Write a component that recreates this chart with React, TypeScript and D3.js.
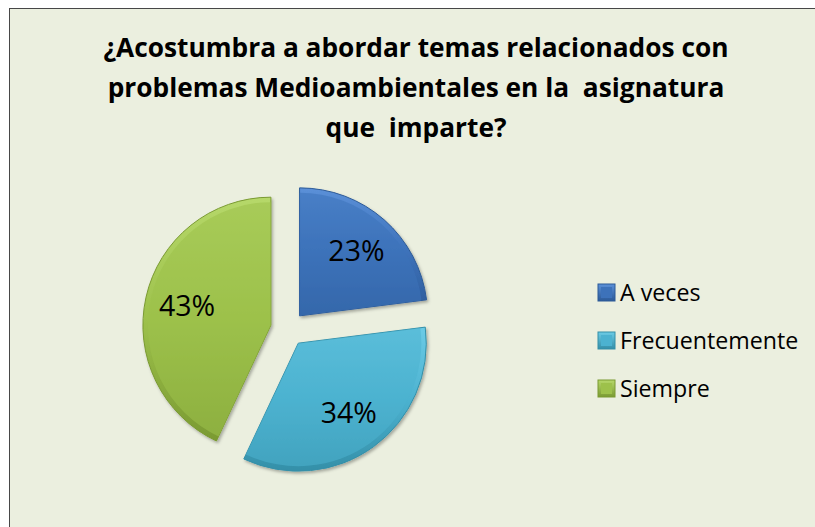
import React from "react";
import * as d3 from "d3";

const titleLines = [
  "¿Acostumbra a abordar temas relacionados con",
  "problemas Medioambientales en la  asignatura",
  "que  imparte?",
];
const categories = ["A veces", "Frecuentemente", "Siempre"];
const values = [23, 34, 43];
const labels = ["23%", "34%", "43%"];
const colors = ["#3D72BA", "#4CB2D0", "#9DC14B"];
const lightColors = ["#5B90D8", "#6CCBE6", "#B6D86A"];
const darkColors = ["#2C5A98", "#348FA8", "#7A9A32"];

const W = 815;
const H = 527;
const FONT = "'Open Sans', 'Noto Sans', sans-serif";

export default function App() {
  const cx = 288;
  const cy = 329;
  const r = 128;
  const explode = 17.5;

  const pie = d3
    .pie<number>()
    .sort(null)
    .startAngle(0)
    .endAngle(2 * Math.PI)
    .value((d) => d);
  const arcs = pie(values);
  const arc = d3.arc<d3.PieArcDatum<number>>().innerRadius(0).outerRadius(r);
  const inner = d3.arc<d3.PieArcDatum<number>>().innerRadius(0).outerRadius(r - 5);
  const labelArc = d3.arc<d3.PieArcDatum<number>>().innerRadius(86).outerRadius(86);

  const legendX = 598;
  const legendY0 = 293;
  const legendStep = 48;

  return (
    <svg
      width={W}
      height={H}
      style={{ position: "absolute", left: 0, top: 0, display: "block" }}
    >
      <defs>
        {colors.map((c, i) => (
          <linearGradient key={i} id={`g${i}`} x1="0" y1="0" x2="0" y2="1">
            <stop offset="0" stopColor={lightColors[i]} />
            <stop offset="0.5" stopColor={c} />
            <stop offset="1" stopColor={darkColors[i]} />
          </linearGradient>
        ))}
        {colors.map((c, i) => (
          <linearGradient key={`m${i}`} id={`m${i}`} x1="0" y1="0" x2="0" y2="1">
            <stop offset="0" stopColor={lightColors[i]} />
            <stop offset="1" stopColor={darkColors[i]} />
          </linearGradient>
        ))}
        <filter id="shadow" x="-20%" y="-20%" width="140%" height="140%">
          <feDropShadow dx="1.5" dy="2" stdDeviation="1.5" floodColor="#000" floodOpacity="0.3" />
        </filter>
      </defs>
      <rect x={0} y={0} width={W} height={H} fill="#ffffff" />
      <rect x={9.5} y={8.5} width={W + 20} height={H + 20} fill="#EBEFDF" stroke="#474747" strokeWidth={1} />

      <g fontFamily={FONT} fontWeight={700} fontSize={26.3} fill="#000" textAnchor="middle">
        {titleLines.map((t, i) => (
          <text key={i} x={416} y={57 + i * 40} style={{ whiteSpace: "pre" }}>
            {t}
          </text>
        ))}
      </g>

      {arcs.map((a, i) => {
        const mid = (a.startAngle + a.endAngle) / 2;
        const dx = Math.sin(mid) * explode;
        const dy = -Math.cos(mid) * explode;
        const [lx, ly] = labelArc.centroid(a);
        return (
          <g key={i} transform={`translate(${cx + dx},${cy + dy})`}>
            <path d={arc(a) || ""} fill={`url(#g${i})`} stroke={darkColors[i]} strokeWidth={1} filter="url(#shadow)" />
            <path d={inner(a) || ""} fill={colors[i]} opacity={0.55} />
            <text
              x={lx}
              y={ly}
              dy="0.35em"
              textAnchor="middle"
              fontFamily={FONT}
              fontSize={28.5}
              fill="#000"
            >
              {labels[i]}
            </text>
          </g>
        );
      })}

      {categories.map((c, i) => {
        const y = legendY0 + i * legendStep;
        return (
          <g key={c}>
            <rect x={legendX} y={y - 9} width={17} height={17} fill={`url(#m${i})`} stroke={darkColors[i]} strokeWidth={1} />
            <rect x={legendX + 3} y={y - 6} width={11} height={11} fill={colors[i]} />
            <text x={620} y={y} dy="0.35em" fontFamily={FONT} fontSize={23.2} fill="#000">
              {c}
            </text>
          </g>
        );
      })}
    </svg>
  );
}
